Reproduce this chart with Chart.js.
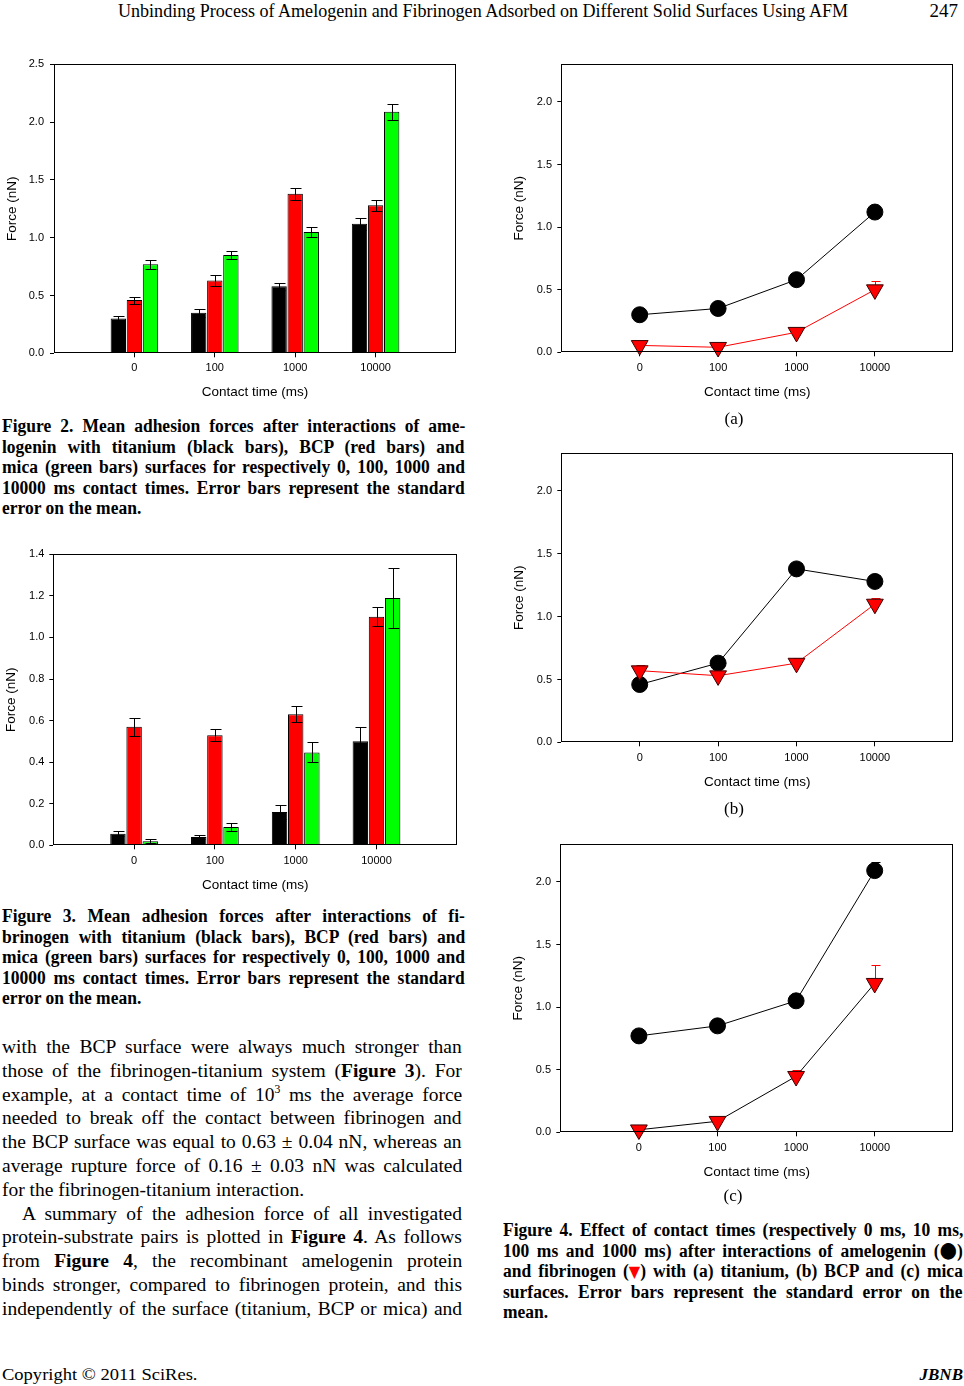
<!DOCTYPE html>
<html>
<head>
<meta charset="utf-8">
<script src="https://cdn.jsdelivr.net/npm/chart.js@4.4.0/dist/chart.umd.min.js"></script>
<style>
html, body { margin: 0; padding: 0; background: #fff; }
#page { position: relative; width: 964px; height: 1386px; overflow: hidden;
  font-family: "Liberation Serif", "Times New Roman", serif; color: #000; }
.blk { position: absolute; }
.cap { font-weight: bold; font-size: 17.5px; line-height: 19px; transform: scaleY(1.08); transform-origin: 0 0; }
.txt { font-size: 19.5px; line-height: 23.8px; }
.ln { white-space: nowrap; }
.ln span.t { display: inline-block; }
.plot { position: absolute; }
sup { font-size: 0.6em; line-height: 0; vertical-align: 0.7em; }
.sym { font-family: "DejaVu Sans", sans-serif; line-height: 0; }
.sub { position: absolute; width: 100px; text-align: center; font-size: 17px; line-height: 20px; }
</style>
</head>
<body>
<div id="page">

  <div class="plot" style="left:0;top:50px;width:470px;height:360px"><canvas id="fig2"></canvas></div>
  <div class="plot" style="left:0;top:540px;width:470px;height:360px"><canvas id="fig3"></canvas></div>
  <div class="plot" style="left:490px;top:50px;width:474px;height:360px"><canvas id="fig4a"></canvas></div>
  <div class="plot" style="left:490px;top:440px;width:474px;height:360px"><canvas id="fig4b"></canvas></div>
  <div class="plot" style="left:490px;top:830px;width:474px;height:360px"><canvas id="fig4c"></canvas></div>

  <div class="blk" id="head" style="left:118px;top:0;font-size:19px;line-height:22px;white-space:nowrap"><span id="headT" style="display:inline-block;transform-origin:0 0">Unbinding Process of Amelogenin and Fibrinogen Adsorbed on Different Solid Surfaces Using AFM</span></div>
  <div class="blk" style="left:900px;top:0;width:58px;text-align:right;font-size:19px;line-height:22px">247</div>

  <div class="blk cap" style="left:2px;top:416px;width:463px">
    <div class="ln j"><span class="t">Figure 2. Mean adhesion forces after interactions of ame-</span></div>
    <div class="ln j"><span class="t">logenin with titanium (black bars), BCP (red bars) and</span></div>
    <div class="ln j"><span class="t">mica (green bars) surfaces for respectively 0, 100, 1000 and</span></div>
    <div class="ln j"><span class="t">10000 ms contact times. Error bars represent the standard</span></div>
    <div class="ln"><span class="t">error on the mean.</span></div>
  </div>

  <div class="blk cap" style="left:2px;top:906px;width:463px">
    <div class="ln j"><span class="t">Figure 3. Mean adhesion forces after interactions of fi-</span></div>
    <div class="ln j"><span class="t">brinogen with titanium (black bars), BCP (red bars) and</span></div>
    <div class="ln j"><span class="t">mica (green bars) surfaces for respectively 0, 100, 1000 and</span></div>
    <div class="ln j"><span class="t">10000 ms contact times. Error bars represent the standard</span></div>
    <div class="ln"><span class="t">error on the mean.</span></div>
  </div>

  <div class="blk txt" style="left:2px;top:1035px;width:460px">
    <div class="ln j"><span class="t">with the BCP surface were always much stronger than</span></div>
    <div class="ln j"><span class="t">those of the fibrinogen-titanium system (<b>Figure 3</b>). For</span></div>
    <div class="ln j"><span class="t">example, at a contact time of 10<sup>3</sup> ms the average force</span></div>
    <div class="ln j"><span class="t">needed to break off the contact between fibrinogen and</span></div>
    <div class="ln j"><span class="t">the BCP surface was equal to 0.63 ± 0.04 nN, whereas an</span></div>
    <div class="ln j"><span class="t">average rupture force of 0.16 ± 0.03 nN was calculated</span></div>
    <div class="ln"><span class="t">for the fibrinogen-titanium interaction.</span></div>
    <div class="ln j" style="padding-left:20px"><span class="t">A summary of the adhesion force of all investigated</span></div>
    <div class="ln j"><span class="t">protein-substrate pairs is plotted in <b>Figure 4</b>. As follows</span></div>
    <div class="ln j"><span class="t">from <b>Figure 4</b>, the recombinant amelogenin protein</span></div>
    <div class="ln j"><span class="t">binds stronger, compared to fibrinogen protein, and this</span></div>
    <div class="ln j"><span class="t">independently of the surface (titanium, BCP or mica) and</span></div>
  </div>

  <div class="sub" style="left:684px;top:409px">(a)</div>
  <div class="sub" style="left:684px;top:799px">(b)</div>
  <div class="sub" style="left:683px;top:1186px">(c)</div>

  <div class="blk cap" style="left:503px;top:1220px;width:460px">
    <div class="ln j"><span class="t">Figure 4. Effect of contact times (respectively 0 ms, 10 ms,</span></div>
    <div class="ln j"><span class="t">100 ms and 1000 ms) after interactions of amelogenin (<span class="sym" style="font-size:1.15em">●</span>)</span></div>
    <div class="ln j"><span class="t">and fibrinogen (<span class="sym" style="color:#f00;font-size:0.85em">▼</span>) with (a) titanium, (b) BCP and (c) mica</span></div>
    <div class="ln j"><span class="t">surfaces. Error bars represent the standard error on the</span></div>
    <div class="ln"><span class="t">mean.</span></div>
  </div>

  <div class="blk" id="foot" style="left:2px;top:1365px;font-size:17px;line-height:20px;white-space:nowrap"><span id="footT" style="display:inline-block;transform-origin:0 0">Copyright © 2011 SciRes.</span></div>
  <div class="blk" style="left:860px;top:1365px;width:103px;text-align:right;font-size:17px;line-height:20px;font-weight:bold;font-style:italic">JBNB</div>
</div>

<script>
// contact times (categories)
const times = ['0', '100', '1000', '10000'];

// amelogenin, mean force (nN) and standard error
const ameTi = [0.30, 0.35, 0.58, 1.12];
const ameTiErr = [0.025, 0.035, 0.03, 0.05];
const ameBcp = [0.46, 0.63, 1.38, 1.28];
const ameBcpErr = [0.03, 0.05, 0.05, 0.05];
const ameMica = [0.77, 0.85, 1.05, 2.09];
const ameMicaErr = [0.04, 0.035, 0.045, 0.07];

// fibrinogen
const fibTi = [0.055, 0.04, 0.16, 0.50];
const fibTiErr = [0.012, 0.008, 0.034, 0.07];
const fibBcp = [0.57, 0.53, 0.63, 1.10];
const fibBcpErr = [0.043, 0.029, 0.039, 0.047];
const fibMica = [0.02, 0.088, 0.447, 1.19];
const fibMicaErr = [0.008, 0.018, 0.048, 0.143];

Chart.defaults.font.family = '"Liberation Sans", Arial, sans-serif';
Chart.defaults.color = '#000';

const pts = arr => arr.map((y, i) => ({ x: i, y }));

// box around the plot area
const frameBox = {
  id: 'frameBox',
  afterDatasetsDraw(chart) {
    const a = chart.chartArea, c = chart.ctx;
    const l = Math.round(a.left) + 0.5, t = Math.round(a.top) + 0.5;
    const r = Math.round(a.right) - 0.5, b = Math.round(a.bottom) - 0.5;
    c.save();
    c.strokeStyle = '#000';
    c.lineWidth = 1;
    c.strokeRect(l, t, r - l, b - t);
    c.restore();
  }
};

function drawErr(chart, o) {
  const ctx = chart.ctx, ys = chart.scales.y;
  chart.data.datasets.forEach((ds, di) => {
    if (!ds.err) return;
    const meta = chart.getDatasetMeta(di);
    ctx.save();
    ctx.strokeStyle = ds.errColor || '#000';
    ctx.lineWidth = 1;
    meta.data.forEach((el, i) => {
      const v = ds.data[i].y, e = ds.err[i];
      const x = Math.round(el.x) + 0.5;
      const yt = Math.round(ys.getPixelForValue(v + e)) + 0.5;
      const yb = o.upperOnly ? ys.getPixelForValue(v) : Math.round(ys.getPixelForValue(v - e)) + 0.5;
      ctx.beginPath();
      ctx.moveTo(x, yt); ctx.lineTo(x, yb);
      ctx.moveTo(x - o.cap, yt); ctx.lineTo(x + o.cap + 1, yt);
      if (!o.upperOnly) { ctx.moveTo(x - o.cap, yb); ctx.lineTo(x + o.cap + 1, yb); }
      ctx.stroke();
    });
    ctx.restore();
  });
}

const errBars = {
  id: 'errBars',
  beforeDatasetsDraw(chart, args, o) { if (o.under) drawErr(chart, o); },
  afterDatasetsDraw(chart, args, o) { if (!o.under) drawErr(chart, o); }
};

function scales(g, ymax, ystep) {
  const onStep = v => Math.abs(v / ystep - Math.round(v / ystep)) < 1e-6;
  return {
    x: {
      type: 'linear', min: -1, max: 4, offset: false,
      afterBuildTicks: s => { s.ticks = s.ticks.filter(t => t.value >= 0 && t.value <= 3); },
      afterFit: s => { s.height = g.xh; },
      ticks: { stepSize: 1, padding: g.xp, font: { size: 11 }, maxRotation: 0, autoSkip: false,
               callback: v => times[v] },
      grid: { display: true, drawOnChartArea: false, drawTicks: true, tickLength: 4, color: '#000', offset: false },
      border: { display: false },
      title: { display: true, text: 'Contact time (ms)', font: { size: 13.5 }, padding: { top: 0, bottom: g.tp } }
    },
    y: {
      min: 0, max: ymax,
      afterBuildTicks: s => { s.ticks = s.ticks.filter(t => onStep(t.value)); },
      afterFit: s => { s.width = g.yw; },
      ticks: { stepSize: ystep, padding: g.yp, font: { size: 11 }, callback: v => v.toFixed(1) },
      grid: { display: true, drawOnChartArea: false, drawTicks: true, tickLength: 4, color: '#000' },
      border: { display: false },
      title: { display: true, text: 'Force (nN)', font: { size: 13.5 }, padding: { top: g.ytp, bottom: 0 } }
    }
  };
}

function barChart(id, g, ymax, ystep, ti, tiErr, bcp, bcpErr, mica, micaErr) {
  const bar = (data, err, col) => ({ data: pts(data), err, backgroundColor: col, borderColor: '#000', borderWidth: 1 });
  return new Chart(document.getElementById(id), {
    type: 'bar',
    data: { datasets: [bar(ti, tiErr, '#000000'), bar(bcp, bcpErr, '#ff0000'), bar(mica, micaErr, '#00ff00')] },
    options: {
      responsive: true, maintainAspectRatio: false, animation: false, devicePixelRatio: 1,
      categoryPercentage: 0.6, barPercentage: 0.955,
      layout: { padding: { left: 0, top: g.top, right: g.right, bottom: 0 } },
      scales: scales(g, ymax, ystep),
      plugins: { legend: { display: false }, tooltip: { enabled: false },
                 errBars: { under: false, upperOnly: false, cap: 5 } }
    },
    plugins: [errBars, frameBox]
  });
}

function lineChart(id, g, ame, ameErr, fib, fibErr, fibLine) {
  return new Chart(document.getElementById(id), {
    type: 'line',
    data: { datasets: [
      { data: pts(fib), err: fibErr, errColor: '#ff0000', borderColor: fibLine, borderWidth: 1, clip: false,
        pointStyle: 'triangle', pointRotation: 180, pointRadius: 9.7,
        pointBackgroundColor: '#ff0000', pointBorderColor: '#3a0000', pointBorderWidth: 1 },
      { data: pts(ame), err: ameErr, errColor: '#000', borderColor: '#000', borderWidth: 1, clip: false,
        pointStyle: 'circle', pointRadius: 8,
        pointBackgroundColor: '#000', pointBorderColor: '#000', pointBorderWidth: 1 }
    ] },
    options: {
      responsive: true, maintainAspectRatio: false, animation: false, devicePixelRatio: 1,
      layout: { padding: { left: 0, top: g.top, right: g.right, bottom: 0 } },
      scales: scales(g, 2.3, 0.5),
      plugins: { legend: { display: false }, tooltip: { enabled: false },
                 errBars: { under: true, upperOnly: true, cap: 4 } }
    },
    plugins: [errBars, frameBox]
  });
}

barChart('fig2', { top: 14.3, right: 14, xh: 56.7, xp: 3.8, tp: 9.9, yw: 54, yp: 6, ytp: 3.9 },
  2.5, 0.5, ameTi, ameTiErr, ameBcp, ameBcpErr, ameMica, ameMicaErr);
barChart('fig3', { top: 14.3, right: 12.7, xh: 54.7, xp: 5, tp: 6.2, yw: 53.3, yp: 5, ytp: 3.6 },
  1.4, 0.2, fibTi, fibTiErr, fibBcp, fibBcpErr, fibMica, fibMicaErr);

lineChart('fig4a', { top: 14.3, right: 6.7, xh: 57.7, xp: 4.8, tp: 9.6, yw: 71.3, yp: 5.3, ytp: 21.2 },
  ameTi, ameTiErr, fibTi, fibTiErr, '#ff0000');
lineChart('fig4b', { top: 13.3, right: 8, xh: 57.7, xp: 4.8, tp: 9.6, yw: 71.3, yp: 5.3, ytp: 21.2 },
  ameBcp, ameBcpErr, fibBcp, fibBcpErr, '#ff0000');
lineChart('fig4c', { top: 14.3, right: 5.7, xh: 57.7, xp: 4.8, tp: 9.6, yw: 70.3, yp: 5.3, ytp: 20.2 },
  ameMica, ameMicaErr, fibMica, fibMicaErr, '#000000');

// justify each text line to its block width, and fit header/footer widths
function fitText() {
  document.querySelectorAll('.ln.j').forEach(ln => {
    const t = ln.querySelector('span.t');
    const pad = parseFloat(getComputedStyle(ln).paddingLeft) || 0;
    const W = ln.parentNode.clientWidth - pad;
    const n = (t.textContent.match(/ /g) || []).length;
    if (n) t.style.wordSpacing = ((W - t.offsetWidth) / n) + 'px';
  });
  const fit = (id, w) => {
    const el = document.getElementById(id);
    el.style.transform = 'scaleX(' + (w / el.offsetWidth) + ')';
  };
  fit('headT', 730);
  fit('footT', 195);
}
fitText();
</script>
</body>
</html>
